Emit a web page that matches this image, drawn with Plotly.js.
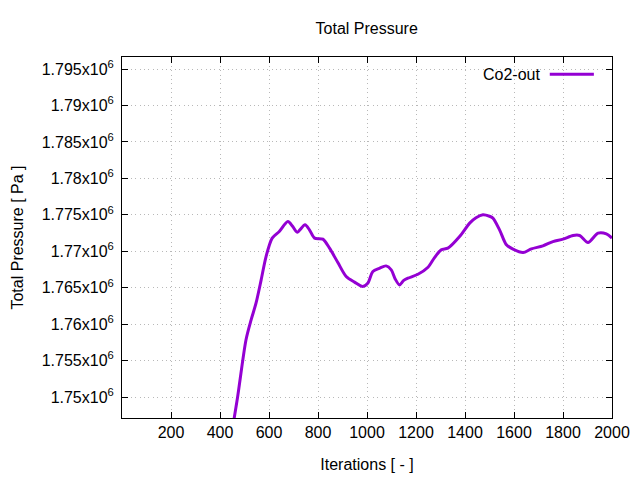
<!DOCTYPE html>
<html>
<head>
<meta charset="utf-8">
<script src="https://cdn.plot.ly/plotly-3.0.1.min.js"></script>
<style>html,body{margin:0;padding:0;background:#fff;}#chart{width:640px;height:480px;}</style>
</head>
<body>
<div id="chart"></div>
<script>
const seriesName = "Co2-out";
const iterations = [450, 472, 506, 527, 547, 568, 588, 613, 642, 677, 697, 715, 747, 765, 786, 820, 847, 881, 915, 949, 983, 1003, 1024, 1050, 1078, 1099, 1115, 1133, 1150, 1167, 1208, 1249, 1275, 1303, 1330, 1378, 1419, 1445, 1473, 1500, 1514, 1541, 1569, 1596, 1637, 1671, 1718, 1759, 1800, 1841, 1868, 1902, 1943, 1977, 2000];
const pressure = [1745500, 1750040, 1757830, 1760580, 1762870, 1766070, 1769270, 1771800, 1772710, 1774080, 1773390, 1772620, 1773630, 1772940, 1771800, 1771660, 1770420, 1768450, 1766530, 1765760, 1765150, 1765600, 1767210, 1767650, 1767990, 1767450, 1766200, 1765380, 1766000, 1766300, 1766850, 1767810, 1769100, 1770190, 1770420, 1772020, 1773860, 1774600, 1775000, 1774800, 1774550, 1772940, 1770880, 1770290, 1769820, 1770330, 1770740, 1771330, 1771660, 1772160, 1772160, 1771200, 1772490, 1772390, 1771800];
const xTicks = [200, 400, 600, 800, 1000, 1200, 1400, 1600, 1800, 2000];
const yTicks = [1750000, 1755000, 1760000, 1765000, 1770000, 1775000, 1780000, 1785000, 1790000, 1795000];
const yTickText = ["1.75x10<sup>6</sup>", "1.755x10<sup>6</sup>", "1.76x10<sup>6</sup>", "1.765x10<sup>6</sup>", "1.77x10<sup>6</sup>", "1.775x10<sup>6</sup>", "1.78x10<sup>6</sup>", "1.785x10<sup>6</sup>", "1.79x10<sup>6</sup>", "1.795x10<sup>6</sup>"];
const titleText = "Total Pressure";
const xTitle = "Iterations [ - ]";
const yTitle = "Total Pressure [ Pa ]";

const lineColor = "#9400d3";
const fam = "Liberation Sans, Arial, sans-serif";
const font = {family: fam, size: 16, color: "#000"};

const axisCommon = {
  showline: true, linecolor: "#000", linewidth: 1, mirror: "ticks",
  ticks: "inside", ticklen: 6, tickcolor: "#000", tickwidth: 1,
  showgrid: true, gridcolor: "#b8b8b8", griddash: "1px,3.4px", gridwidth: 1,
  zeroline: false, tickfont: {family: fam, size: 16, color: "#000"}
};

const data = [{
  x: iterations, y: pressure, type: "scatter", mode: "lines", name: seriesName,
  line: {color: lineColor, width: 3, shape: "spline", smoothing: 0.8},
  showlegend: false
}];

const layout = {
  width: 640, height: 480,
  margin: {l: 122, r: 28, t: 57, b: 62, pad: 0},
  paper_bgcolor: "#fff", plot_bgcolor: "#fff",
  font: font,
  title: {text: titleText, x: 0.573, xanchor: "center", y: 0.94, yanchor: "middle", font: {family: fam, size: 16, color: "#000"}},
  xaxis: Object.assign({}, axisCommon, {
    range: [0, 2000], tickmode: "array", tickvals: xTicks, ticktext: xTicks.map(String),
    title: {text: xTitle, standoff: 18, font: {family: fam, size: 16, color: "#000"}}
  }),
  yaxis: Object.assign({}, axisCommon, {
    range: [1747120, 1796650], tickmode: "array", tickvals: yTicks, ticktext: yTickText,
    ticklabelstandoff: 4,
    title: {text: yTitle, standoff: 14, font: {family: fam, size: 16, color: "#000"}}
  }),
  annotations: [{
    xref: "paper", yref: "paper", x: 0.858, y: 0.952, xanchor: "right", yanchor: "middle",
    text: seriesName, showarrow: false, font: {family: fam, size: 16, color: "#000"}
  }],
  shapes: [{
    type: "line", xref: "paper", yref: "paper", x0: 0.873, x1: 0.963, y0: 0.952, y1: 0.952,
    line: {color: lineColor, width: 3}
  }]
};

Plotly.newPlot("chart", data, layout, {staticPlot: true, displayModeBar: false});
</script>
</body>
</html>
